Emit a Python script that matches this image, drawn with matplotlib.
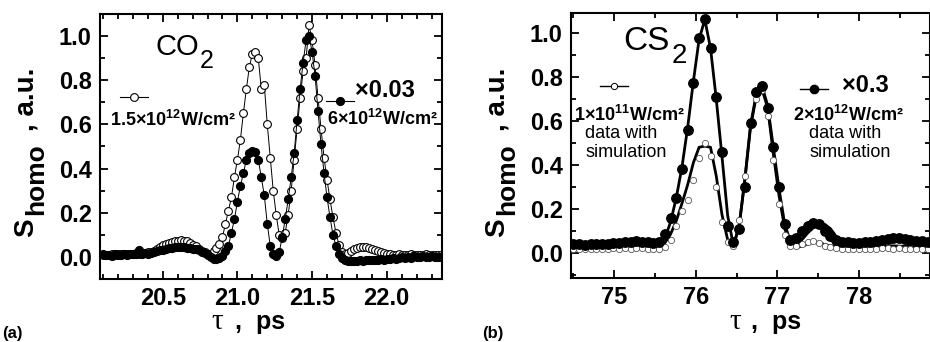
import matplotlib
matplotlib.use("Agg")
import matplotlib.pyplot as plt
from matplotlib.legend import Legend
from matplotlib.lines import Line2D
from matplotlib.ticker import FormatStrFormatter, MultipleLocator

plt.rcParams.update({
    "font.family": "Liberation Sans",
    "font.weight": "bold",
    "mathtext.fontset": "custom",
    "mathtext.rm": "Liberation Sans",
    "mathtext.it": "Liberation Sans:italic",
    "mathtext.bf": "Liberation Sans:bold",
    "axes.linewidth": 1.5,
})

W, H = 930, 342

# (a) CO2, delay grid in ps
TAU_A = [
    20.10, 20.12, 20.14, 20.16, 20.18, 20.20, 20.22, 20.24, 20.26, 20.28,
    20.30, 20.32, 20.34, 20.36, 20.38, 20.40, 20.42, 20.44, 20.46, 20.48,
    20.50, 20.52, 20.54, 20.56, 20.58, 20.60, 20.62, 20.64, 20.66, 20.68,
    20.70, 20.72, 20.74, 20.76, 20.78, 20.80, 20.82, 20.84, 20.86, 20.88,
    20.90, 20.92, 20.94, 20.96, 20.98, 21.00, 21.02, 21.04, 21.06, 21.08,
    21.10, 21.12, 21.14, 21.16, 21.18, 21.20, 21.22, 21.24, 21.26, 21.28,
    21.30, 21.32, 21.34, 21.36, 21.38, 21.40, 21.42, 21.44, 21.46, 21.48,
    21.50, 21.52, 21.54, 21.56, 21.58, 21.60, 21.62, 21.64, 21.66, 21.68,
    21.70, 21.72, 21.74, 21.76, 21.78, 21.80, 21.82, 21.84, 21.86, 21.88,
    21.90, 21.92, 21.94, 21.96, 21.98, 22.00, 22.02, 22.04, 22.06, 22.08,
    22.10, 22.12, 22.14, 22.16, 22.18, 22.20, 22.22, 22.24, 22.26, 22.28,
    22.30, 22.32, 22.34, 22.36,
]
# 1.5e12 W/cm2 (open circles)
CO2_LOW = [
    0.010, 0.008, 0.010, 0.012, 0.010, 0.012, 0.011, 0.014, 0.012, 0.015,
    0.014, 0.016, 0.015, 0.018, 0.016, 0.020, 0.022, 0.028, 0.035, 0.045,
    0.052, 0.058, 0.062, 0.066, 0.070, 0.073, 0.076, 0.074, 0.070, 0.064,
    0.056, 0.048, 0.038, 0.028, 0.020, 0.014, 0.015, 0.025, 0.040, 0.060,
    0.090, 0.150, 0.210, 0.270, 0.360, 0.440, 0.530, 0.650, 0.760, 0.860,
    0.920, 0.930, 0.900, 0.760, 0.780, 0.600, 0.450, 0.300, 0.190, 0.100,
    0.085, 0.110, 0.190, 0.300, 0.440, 0.580, 0.720, 0.840, 0.900, 1.050,
    0.980, 0.870, 0.720, 0.580, 0.450, 0.350, 0.260, 0.180, 0.110, 0.055,
    0.022, 0.012, 0.018, 0.028, 0.035, 0.040, 0.044, 0.046, 0.045, 0.042,
    0.038, 0.033, 0.028, 0.022, 0.018, 0.014, 0.012, 0.010, 0.010, 0.012,
    0.010, 0.008, 0.010, 0.012, 0.009, 0.010, 0.008, 0.010, 0.011, 0.009,
    0.010, 0.008, 0.010, 0.009,
]
# 6e12 W/cm2 x0.03 (filled circles)
CO2_HIGH = [
    0.012, 0.008, 0.010, 0.006, 0.012, 0.010, 0.008, 0.012, 0.010, 0.014,
    0.012, 0.015, 0.030, 0.012, 0.016, 0.014, 0.018, 0.020, 0.025, 0.030,
    0.033, 0.036, 0.040, 0.042, 0.045, 0.046, 0.046, 0.044, 0.042, 0.040,
    0.036, 0.034, 0.030, 0.024, 0.016, 0.008, 0.000, -0.008, -0.010, -0.006,
    0.005, 0.025, 0.050, 0.110, 0.170, 0.250, 0.320, 0.380, 0.440, 0.470,
    0.480, 0.475, 0.440, 0.360, 0.280, 0.150, 0.050, 0.015, 0.005, 0.020,
    0.090, 0.170, 0.260, 0.360, 0.470, 0.620, 0.760, 0.880, 0.980, 1.000,
    0.930, 0.820, 0.660, 0.510, 0.380, 0.270, 0.180, 0.100, 0.050, 0.015,
    -0.005, -0.015, -0.020, -0.020, -0.018, -0.020, -0.016, -0.018, -0.015, -0.016,
    -0.014, -0.012, -0.014, -0.010, -0.012, -0.008, -0.010, -0.006, -0.008, -0.004,
    -0.002, -0.004, 0.000, -0.003, 0.002, -0.002, 0.000, 0.002, -0.002, 0.000,
    0.002, -0.002, 0.000, 0.001,
]

# (b) CS2
TAU_B = [
    74.50, 74.57, 74.64, 74.71, 74.78, 74.85, 74.92, 74.99, 75.06, 75.13,
    75.20, 75.27, 75.34, 75.41, 75.48, 75.55, 75.62, 75.69, 75.76, 75.83,
    75.90, 75.97, 76.04, 76.11, 76.18, 76.25, 76.32, 76.39, 76.46, 76.53,
    76.60, 76.67, 76.74, 76.81, 76.88, 76.95, 77.02, 77.09, 77.16, 77.23,
    77.30, 77.37, 77.44, 77.51, 77.58, 77.65, 77.72, 77.79, 77.86, 77.93,
    78.00, 78.07, 78.14, 78.21, 78.28, 78.35, 78.42, 78.49, 78.56, 78.63,
    78.70, 78.77, 78.84,
]
CS2_HIGH_DATA = [
    0.040, 0.040, 0.038, 0.040, 0.042, 0.040, 0.042, 0.045, 0.045, 0.048,
    0.050, 0.052, 0.050, 0.048, 0.045, 0.050, 0.085, 0.160, 0.250, 0.380,
    0.560, 0.770, 0.975, 1.065, 0.930, 0.710, 0.460, 0.120, 0.050, 0.110,
    0.300, 0.590, 0.730, 0.760, 0.660, 0.480, 0.300, 0.130, 0.060, 0.070,
    0.100, 0.120, 0.135, 0.130, 0.100, 0.075, 0.060, 0.050, 0.048, 0.047,
    0.047, 0.048, 0.050, 0.052, 0.058, 0.065, 0.070, 0.068, 0.062, 0.058,
    0.055, 0.052, 0.050,
]
CS2_HIGH_SIM = [
    0.035, 0.035, 0.035, 0.036, 0.037, 0.038, 0.040, 0.042, 0.044, 0.046,
    0.047, 0.047, 0.046, 0.043, 0.040, 0.040, 0.065, 0.140, 0.250, 0.390,
    0.570, 0.780, 0.970, 1.060, 0.930, 0.700, 0.440, 0.170, 0.035, 0.120,
    0.330, 0.580, 0.720, 0.760, 0.670, 0.480, 0.290, 0.130, 0.050, 0.030,
    0.060, 0.090, 0.115, 0.125, 0.130, 0.110, 0.075, 0.050, 0.045, 0.044,
    0.044, 0.045, 0.046, 0.048, 0.052, 0.055, 0.056, 0.054, 0.050, 0.047,
    0.045, 0.044, 0.044,
]
CS2_LOW_DATA = [
    0.018, 0.020, 0.016, 0.019, 0.017, 0.020, 0.018, 0.021, 0.019, 0.022,
    0.020, 0.023, 0.021, 0.019, 0.017, 0.018, 0.025, 0.060, 0.120, 0.190,
    0.240, 0.330, 0.430, 0.500, 0.440, 0.300, 0.140, 0.050, 0.030, 0.150,
    0.350, 0.580, 0.700, 0.740, 0.620, 0.420, 0.220, 0.080, 0.030, 0.030,
    0.040, 0.050, 0.055, 0.045, 0.030, 0.025, 0.022, 0.020, 0.020, 0.019,
    0.020, 0.018, 0.020, 0.019, 0.021, 0.022, 0.020, 0.021, 0.019, 0.020,
    0.018, 0.019, 0.018,
]
CS2_LOW_SIM = [
    0.025, 0.025, 0.025, 0.025, 0.026, 0.026, 0.027, 0.028, 0.029, 0.030,
    0.031, 0.031, 0.030, 0.028, 0.026, 0.026, 0.045, 0.085, 0.145, 0.225,
    0.310, 0.410, 0.480, 0.485, 0.480, 0.350, 0.175, 0.060, 0.030, 0.120,
    0.330, 0.570, 0.710, 0.745, 0.660, 0.450, 0.260, 0.110, 0.040, 0.025,
    0.030, 0.040, 0.050, 0.047, 0.038, 0.032, 0.029, 0.028, 0.028, 0.028,
    0.028, 0.028, 0.029, 0.030, 0.031, 0.032, 0.032, 0.031, 0.030, 0.029,
    0.028, 0.028, 0.028,
]


def px(x, y):
    return x / W, 1 - y / H


def style_axes(ax, xlim, ylim, xmaj, xmin, xfmt):
    ax.set_xlim(*xlim)
    ax.set_ylim(*ylim)
    ax.xaxis.set_major_locator(MultipleLocator(xmaj))
    ax.xaxis.set_minor_locator(MultipleLocator(xmin))
    ax.yaxis.set_major_locator(MultipleLocator(0.2))
    ax.yaxis.set_minor_locator(MultipleLocator(0.1))
    ax.xaxis.set_major_formatter(FormatStrFormatter(xfmt))
    ax.yaxis.set_major_formatter(FormatStrFormatter("%.1f"))
    ax.tick_params(which="both", direction="in", top=True, right=True, width=1.3)
    ax.tick_params(which="major", length=6, labelsize=17)
    ax.tick_params(which="minor", length=3.5)
    ax.tick_params(axis="x", pad=6)
    ax.tick_params(axis="y", pad=6)


def ylabel_parts(fig, ax_left):
    kw = dict(rotation=90, rotation_mode="anchor", ha="left", va="baseline")
    fig.text(*px(ax_left - 67, 237), "S", fontsize=20, **kw)
    fig.text(*px(ax_left - 56.5, 215), "homo", fontsize=19, **kw)
    fig.text(*px(ax_left - 67, 131), ", a.u.", fontsize=20, **kw)


def xlabel_parts(fig, tau_x, ps_x):
    fig.text(*px(tau_x, 329), "τ", fontsize=21, family="Liberation Serif",
             weight="normal", ha="center", va="baseline")
    fig.text(*px(ps_x, 329), ",  ps", fontsize=18, ha="left", va="baseline")


def handle_legend(ax, handle, xy):
    leg = Legend(ax, [handle], [""], loc="center", bbox_to_anchor=xy,
                 frameon=False, handlelength=2.0, handletextpad=0,
                 borderpad=0, borderaxespad=0, numpoints=1)
    ax.add_artist(leg)


fig = plt.figure(figsize=(W / 100, H / 100), dpi=100)
ax_a = fig.add_axes([100 / W, 1 - 279 / H, 342 / W, 265 / H])
ax_b = fig.add_axes([571 / W, 1 - 278 / H, 359 / W, 265 / H])

# ---- (a) CO2
ax_a.plot(TAU_A, CO2_LOW, color="black", lw=0.7, marker="o", ms=5.6,
          mfc="white", mec="black", mew=0.8)
ax_a.plot(TAU_A, CO2_HIGH, color="black", lw=0.7, marker="o", ms=5.6,
          mfc="black", mec="black")
style_axes(ax_a, (20.08, 22.37), (-0.1, 1.1), 0.5, 0.1, "%.1f")

ax_a.text(0.161, 0.845, "CO", transform=ax_a.transAxes, fontsize=21, weight="normal")
ax_a.text(0.292, 0.796, "2", transform=ax_a.transAxes, fontsize=18, weight="normal")
handle_legend(ax_a, Line2D([], [], color="black", lw=0.8, marker="o", ms=5.6,
                           mfc="white", mec="black", mew=0.8), (0.099, 0.683))
handle_legend(ax_a, Line2D([], [], color="black", lw=0.8, marker="o", ms=5.6,
                           mfc="black", mec="black"), (0.702, 0.668))
ax_a.text(0.029, 0.577, "1.5×10$^{12}$W/cm²", transform=ax_a.transAxes,
          fontsize=13, va="baseline")
ax_a.text(0.746, 0.687, "×0.03", transform=ax_a.transAxes, fontsize=17, va="baseline")
ax_a.text(0.664, 0.581, "6×10$^{12}$W/cm²", transform=ax_a.transAxes,
          fontsize=13, va="baseline")

# ---- (b) CS2
ax_b.plot(TAU_B, CS2_LOW_SIM, color="black", lw=2.0, zorder=2)
ax_b.plot(TAU_B, CS2_HIGH_SIM, color="black", lw=2.0, zorder=2)
ax_b.plot(TAU_B, CS2_LOW_DATA, ls="none", marker="o", ms=4.5, mfc="white",
          mec="#555555", mew=0.6, zorder=3)
ax_b.plot(TAU_B, CS2_HIGH_DATA, ls="none", marker="o", ms=6.8, mfc="black",
          mec="black", zorder=4)
style_axes(ax_b, (74.47, 78.87), (-0.114, 1.09), 1, 0.5, "%d")

ax_b.text(0.145, 0.860, "CS", transform=ax_b.transAxes, fontsize=24, weight="normal")
ax_b.text(0.279, 0.811, "2", transform=ax_b.transAxes, fontsize=20, weight="normal")
handle_legend(ax_b, Line2D([], [], color="black", lw=1.0, marker="o", ms=4.5,
                           mfc="white", mec="black", mew=0.7), (0.120, 0.721))
handle_legend(ax_b, Line2D([], [], color="black", lw=1.0, marker="o", ms=6,
                           mfc="black", mec="black"), (0.677, 0.709))
ax_b.text(0.162, 0.592, "1×10$^{11}$W/cm²", transform=ax_b.transAxes,
          fontsize=13, ha="center", va="baseline")
ax_b.text(0.139, 0.530, "data with", transform=ax_b.transAxes, fontsize=13,
          weight="normal", ha="center", va="baseline")
ax_b.text(0.153, 0.456, "simulation", transform=ax_b.transAxes, fontsize=13,
          weight="normal", ha="center", va="baseline")
ax_b.text(0.755, 0.702, "×0.3", transform=ax_b.transAxes, fontsize=17, va="baseline")
ax_b.text(0.774, 0.592, "2×10$^{12}$W/cm²", transform=ax_b.transAxes,
          fontsize=13, ha="center", va="baseline")
ax_b.text(0.763, 0.528, "data with", transform=ax_b.transAxes, fontsize=13,
          weight="normal", ha="center", va="baseline")
ax_b.text(0.777, 0.456, "simulation", transform=ax_b.transAxes, fontsize=13,
          weight="normal", ha="center", va="baseline")

# axis labels and panel tags
ylabel_parts(fig, 100)
ylabel_parts(fig, 571)
xlabel_parts(fig, 217.5, 235)
xlabel_parts(fig, 735, 751)
fig.text(*px(2, 338), "(a)", fontsize=12, va="baseline")
fig.text(*px(482, 338), "(b)", fontsize=12, va="baseline")

fig.savefig("out.png", dpi=100)
